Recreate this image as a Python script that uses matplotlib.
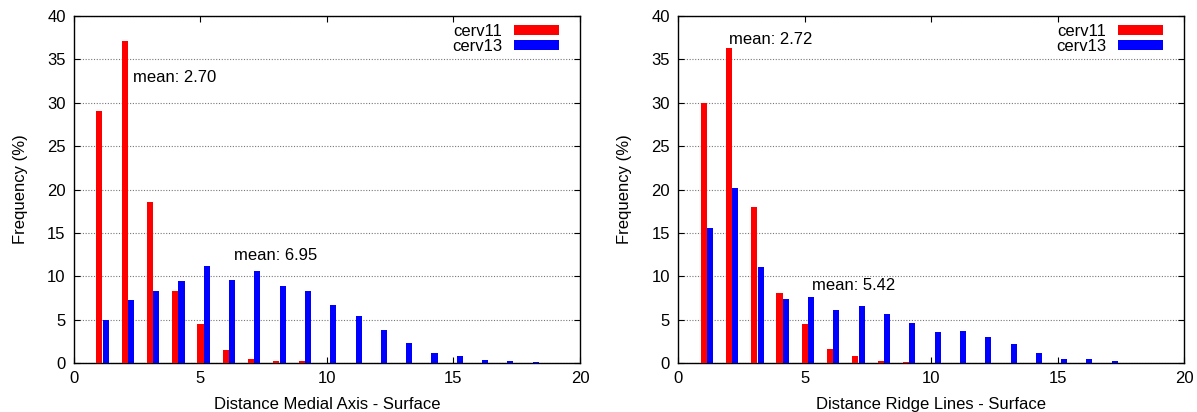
import numpy as np
import matplotlib
matplotlib.use("Agg")
import matplotlib.pyplot as plt

plt.rcParams['font.family'] = ['Liberation Sans', 'DejaVu Sans']

# distance bins (1..18)
bins = np.arange(1, 19)

# Medial axis - surface
medial_cerv11 = [29.0, 37.1, 18.6, 8.3, 4.5, 1.5, 0.5, 0.2, 0.2, 0, 0, 0, 0, 0, 0, 0, 0, 0]
medial_cerv13 = [4.9, 7.3, 8.3, 9.4, 11.2, 9.6, 10.6, 8.9, 8.3, 6.7, 5.45, 3.85, 2.35, 1.2, 0.85, 0.4, 0.27, 0.15]

# Ridge lines - surface
ridge_cerv11 = [30.0, 36.3, 18.0, 8.1, 4.5, 1.65, 0.85, 0.27, 0.15, 0, 0, 0, 0, 0, 0, 0, 0, 0]
ridge_cerv13 = [15.6, 20.2, 11.1, 7.4, 7.65, 6.15, 6.6, 5.6, 4.65, 3.6, 3.7, 3.05, 2.2, 1.1, 0.5, 0.5, 0.27, 0]

series_labels = ['cerv11', 'cerv13']
xlabels = ['Distance Medial Axis - Surface', 'Distance Ridge Lines - Surface']
mean_notes = [
    [('mean: 2.70', 2.32, 32.9), ('mean: 6.95', 6.31, 12.4)],
    [('mean: 2.72', 2.02, 37.35), ('mean: 5.42', 5.28, 8.9)],
]

fig = plt.figure(figsize=(11.97, 4.12), dpi=100)
ax1 = fig.add_axes([0.0618, 0.119, 0.4227, 0.842])
ax2 = fig.add_axes([0.5667, 0.119, 0.4227, 0.842])

data = [(medial_cerv11, medial_cerv13), (ridge_cerv11, ridge_cerv13)]
w = 0.24
for ax, (red, blue), xl, notes in zip([ax1, ax2], data, xlabels, mean_notes):
    ax.bar(bins, red, width=w, color='#ff0000', label=series_labels[0], zorder=3)
    ax.bar(bins + 0.25, blue, width=w, color='#0000ff', label=series_labels[1], zorder=3)
    ax.set_xlim(0, 20)
    ax.set_ylim(0, 40)
    ax.set_xticks([0, 5, 10, 15, 20])
    ax.set_yticks(np.arange(0, 41, 5))
    ax.tick_params(direction='in', top=True, right=True, length=4, width=0.8,
                   labelsize=12, pad=6, colors='black')
    ax.yaxis.grid(True, linestyle=(0, (1, 1.5)), color='#777777', linewidth=0.8, zorder=0)
    ax.set_xlabel(xl, fontsize=12, labelpad=8)
    ax.set_ylabel('Frequency (%)', fontsize=12, labelpad=14)
    for sp in ax.spines.values():
        sp.set_linewidth(1.0)
    for txt, tx, ty in notes:
        ax.text(tx, ty, txt, fontsize=12, va='center', ha='left', zorder=4)
    ax.legend(loc='upper right', bbox_to_anchor=(0.958, 0.978), frameon=False,
              markerfirst=False, fontsize=12, handlelength=2.7, handleheight=0.55,
              labelspacing=0.04, borderpad=0, borderaxespad=0, handletextpad=0.7)

fig.savefig('out.png', dpi=100)
